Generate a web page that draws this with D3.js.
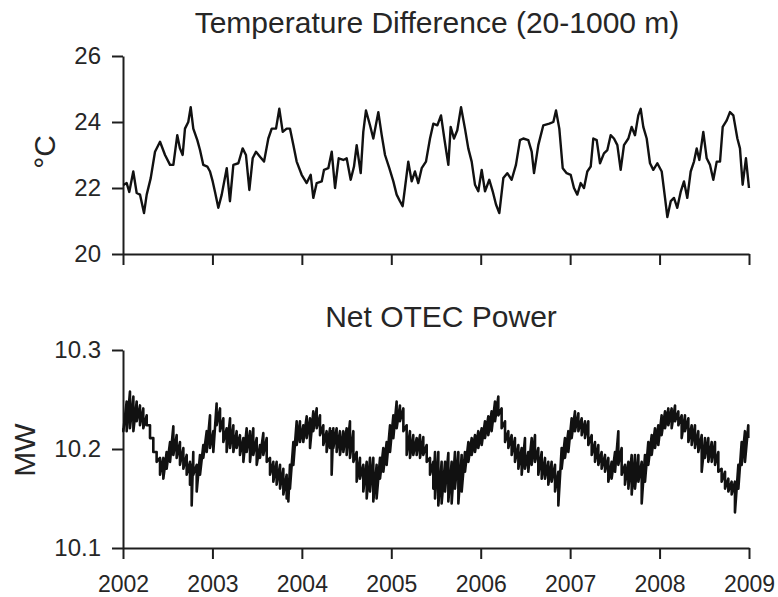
<!DOCTYPE html>
<html>
<head>
<meta charset="utf-8">
<script src="https://cdn.jsdelivr.net/npm/d3@7"></script>
<style>
  html, body { margin: 0; padding: 0; background: #fff; }
  svg { display: block; font-family: "Liberation Sans", Arial, sans-serif; }
</style>
</head>
<body>
<svg id="chart" width="778" height="597"></svg>
<script>
// ---------------- data ----------------
const years = [2002, 2003, 2004, 2005, 2006, 2007, 2008, 2009];
const tempTicks = [20, 22, 24, 26];
const powerTicks = [10.1, 10.2, 10.3];

// Temperature difference (20-1000 m), time in years since start of 2002
const tempT = [0.004,0.041,0.070,0.115,0.153,0.190,0.235,0.265,0.310,0.358,0.414,0.470,0.526,0.563,0.607,0.637,0.667,0.693,0.730,0.757,0.786,0.831,0.861,0.898,0.943,0.973,
1.003,1.029,1.066,1.104,1.160,1.196,1.234,1.290,1.338,1.375,1.413,1.450,1.487,1.532,1.577,1.625,1.663,1.711,1.748,1.786,1.830,1.867,1.905,1.942,1.998,
2.054,2.099,2.128,2.166,2.222,2.248,2.296,2.334,2.371,2.412,2.464,2.501,2.546,2.583,2.613,2.658,2.687,2.717,2.762,2.799,2.855,2.893,2.930,2.978,
3.023,3.060,3.097,3.127,3.153,3.190,3.228,3.265,3.302,3.340,3.388,3.433,3.470,3.515,3.556,3.593,3.638,3.664,3.701,3.738,3.780,3.824,3.861,3.899,3.936,3.973,
4.011,4.048,4.096,4.134,4.171,4.208,4.253,4.297,4.346,4.394,4.439,4.476,4.532,4.570,4.596,4.644,4.700,4.767,4.812,4.842,4.879,4.917,4.961,
5.006,5.043,5.080,5.118,5.155,5.192,5.230,5.259,5.297,5.334,5.378,5.416,5.453,5.490,5.528,5.565,5.602,5.651,5.688,5.725,5.762,5.789,5.818,5.856,5.893,5.930,5.975,
6.024,6.061,6.087,6.125,6.161,6.198,6.236,6.273,6.310,6.348,6.385,6.415,6.445,6.489,6.527,6.564,6.601,6.639,6.676,6.706,6.751,6.787,6.825,6.870,6.899,6.929,6.966,7.000];
const tempV = [22.09,22.15,21.88,22.50,21.85,21.80,21.24,21.80,22.30,23.10,23.40,23.00,22.70,22.70,23.60,23.20,23.00,23.80,24.00,24.45,23.80,23.45,23.15,22.70,22.65,22.50,
22.20,21.88,21.40,21.80,22.60,21.60,22.70,22.75,23.20,23.00,21.94,22.90,23.10,22.95,22.80,23.50,23.80,23.80,24.40,23.70,23.80,23.80,23.30,22.80,22.40,
22.15,22.40,21.70,22.15,22.20,22.55,22.60,23.10,22.00,22.90,22.85,22.90,22.25,22.65,23.30,22.45,23.70,24.35,23.90,23.50,24.30,23.60,23.00,22.60,
22.20,21.80,21.60,21.45,22.00,22.80,22.20,22.50,22.15,22.60,22.80,23.50,23.95,23.90,24.20,23.50,22.70,23.85,23.50,23.75,24.45,23.80,23.20,22.80,22.10,21.90,
22.55,21.90,22.25,21.90,21.50,21.24,22.30,22.45,22.25,22.70,23.45,23.50,23.45,23.10,22.45,23.30,23.90,23.95,24.00,24.35,23.80,22.60,22.45,
22.40,22.00,21.80,22.15,22.00,22.50,22.65,23.50,23.45,22.75,23.05,23.15,23.60,23.50,23.30,22.55,23.30,23.50,23.85,23.60,24.20,24.40,23.85,23.50,22.75,22.55,22.75,
22.50,21.70,21.12,21.60,21.70,21.40,21.88,22.20,21.70,22.50,22.80,23.20,22.85,23.70,22.90,22.70,22.25,22.80,22.80,23.85,24.05,24.30,24.20,23.50,23.20,22.10,22.90,22.00];

// Net OTEC power: upper and lower edges of the noisy band, time in years since start of 2002
const powerT = [0.004,0.041,0.078,0.116,0.153,0.190,0.227,0.265,0.302,0.339,0.376,0.414,0.451,0.488,0.526,0.563,0.600,0.637,0.675,0.712,0.749,0.768,0.786,0.824,0.861,0.898,0.936,0.973,
1.010,1.047,1.085,1.122,1.159,1.197,1.234,1.271,1.308,1.346,1.383,1.420,1.457,1.495,1.532,1.569,1.607,1.644,1.681,1.718,1.756,1.793,1.830,1.849,1.867,1.905,1.942,1.979,
2.016,2.054,2.091,2.128,2.166,2.203,2.240,2.277,2.315,2.333,2.352,2.389,2.426,2.464,2.501,2.538,2.576,2.613,2.650,2.687,2.725,2.762,2.799,2.836,2.874,2.911,2.948,2.986,
3.023,3.060,3.097,3.135,3.172,3.209,3.246,3.284,3.321,3.358,3.396,3.433,3.470,
3.489,3.526,3.563,3.601,3.638,3.675,3.712,3.750,3.787,3.824,3.862,3.899,3.936,3.973,4.011,4.048,4.085,4.122,4.160,4.197,4.234,4.272,4.309,4.346,4.383,4.421,4.458,4.495,4.532,4.570,4.607,4.644,4.682,4.719,4.756,4.793,4.831,4.868,4.905,4.942,4.980,
5.017,5.054,5.092,5.129,5.166,5.203,5.241,5.278,5.315,5.352,5.390,5.427,5.464,5.502,5.539,5.576,5.613,5.651,5.688,5.725,5.763,5.800,5.837,5.874,5.912,5.949,5.986,
6.023,6.061,6.098,6.135,6.173,6.210,6.247,6.284,6.322,6.359,6.396,6.433,6.471,6.508,6.545,6.583,6.620,6.657,6.694,6.732,6.769,6.806,6.843,6.881,6.918,6.955,6.992];
const powerHi = [10.221,10.248,10.258,10.253,10.248,10.244,10.241,10.234,10.224,10.211,10.197,10.191,10.191,10.197,10.207,10.223,10.214,10.207,10.201,10.194,10.187,10.184,10.197,10.184,10.194,10.204,10.218,10.234,
10.218,10.246,10.241,10.231,10.221,10.231,10.224,10.218,10.214,10.211,10.221,10.218,10.221,10.211,10.204,10.216,10.211,10.191,10.187,10.187,10.184,10.180,10.174,10.170,10.184,10.207,10.228,10.228,
10.224,10.233,10.231,10.238,10.241,10.234,10.224,10.218,10.221,10.218,10.221,10.221,10.218,10.218,10.221,10.228,10.218,10.197,10.191,10.184,10.187,10.191,10.191,10.184,10.191,10.201,10.207,10.224,
10.234,10.248,10.244,10.241,10.224,10.218,10.214,10.211,10.214,10.212,10.204,10.191,10.187,
10.197,10.197,10.187,10.187,10.196,10.187,10.197,10.197,10.194,10.197,10.207,10.211,10.214,10.218,10.221,10.228,10.233,10.238,10.248,10.253,10.241,10.228,10.218,10.214,10.211,10.204,10.201,10.211,10.197,10.211,10.214,10.201,10.197,10.191,10.187,10.187,10.184,10.177,10.201,10.211,10.218,
10.231,10.238,10.236,10.231,10.228,10.228,10.214,10.207,10.204,10.197,10.194,10.191,10.187,10.197,10.218,10.201,10.184,10.187,10.194,10.194,10.194,10.187,10.194,10.207,10.214,10.221,10.224,
10.234,10.238,10.241,10.241,10.244,10.238,10.234,10.234,10.231,10.224,10.224,10.218,10.214,10.211,10.211,10.207,10.207,10.197,10.180,10.177,10.170,10.167,10.167,10.184,10.207,10.218,10.224];
const powerLo = [10.218,10.218,10.221,10.218,10.228,10.224,10.221,10.224,10.211,10.197,10.187,10.174,10.170,10.180,10.187,10.194,10.191,10.184,10.180,10.174,10.164,10.143,10.174,10.157,10.174,10.191,10.197,10.201,
10.197,10.224,10.218,10.207,10.197,10.201,10.197,10.201,10.194,10.187,10.197,10.187,10.194,10.184,10.191,10.194,10.187,10.174,10.167,10.164,10.160,10.154,10.150,10.147,10.160,10.184,10.204,10.207,
10.207,10.211,10.201,10.218,10.221,10.214,10.204,10.197,10.201,10.174,10.201,10.197,10.194,10.197,10.194,10.191,10.187,10.167,10.170,10.157,10.150,10.157,10.147,10.150,10.170,10.177,10.184,10.197,
10.211,10.221,10.228,10.218,10.194,10.191,10.194,10.194,10.191,10.194,10.187,10.174,10.160,
10.150,10.143,10.145,10.157,10.147,10.145,10.160,10.145,10.157,10.177,10.187,10.194,10.197,10.201,10.204,10.211,10.214,10.218,10.228,10.234,10.221,10.207,10.201,10.194,10.187,10.180,10.174,10.180,10.177,10.184,10.187,10.174,10.170,10.170,10.164,10.167,10.157,10.143,10.180,10.191,10.197,
10.211,10.218,10.218,10.214,10.211,10.204,10.194,10.187,10.184,10.180,10.177,10.167,10.170,10.177,10.184,10.174,10.164,10.160,10.154,10.160,10.167,10.145,10.167,10.184,10.194,10.201,10.204,
10.214,10.221,10.224,10.221,10.228,10.224,10.211,10.218,10.207,10.204,10.201,10.197,10.177,10.191,10.187,10.187,10.184,10.177,10.167,10.160,10.157,10.154,10.136,10.160,10.184,10.187,10.211];

// ---------------- drawing ----------------
const svg = d3.select("#chart");
const ink = "#1e1e1e";

const x = d3.scaleLinear().domain([2002, 2009]).range([123, 749]);
const yT = d3.scaleLinear().domain([20, 26]).range([254, 56]);
const yP = d3.scaleLinear().domain([10.1, 10.3]).range([548, 350]);

function styleAxis(g) {
  g.select(".domain").attr("stroke", ink).attr("stroke-width", 2);
  g.selectAll(".tick line").attr("stroke", ink).attr("stroke-width", 2);
  g.selectAll(".tick text").attr("fill", "#262626").style("font-size", "24px")
    .style("font-family", "'Liberation Sans', Arial, sans-serif");
}

// ---- top panel ----
svg.append("g").attr("transform", "translate(0,254)")
  .call(d3.axisBottom(x).tickValues(years).tickFormat("").tickSize(11).tickSizeOuter(0))
  .call(styleAxis);
svg.append("g").attr("transform", "translate(123,0)")
  .call(d3.axisLeft(yT).tickValues(tempTicks).tickFormat(d3.format("d")).tickSize(11).tickPadding(11).tickSizeOuter(0))
  .call(styleAxis);

const tempData = tempT.map((t, i) => [2002 + t, tempV[i]]);
svg.append("path").datum(tempData)
  .attr("fill", "none").attr("stroke", "#111").attr("stroke-width", 2.4)
  .attr("stroke-linejoin", "round")
  .attr("d", d3.line().x(d => x(d[0])).y(d => yT(d[1])));

svg.append("text").attr("x", 437).attr("y", 33).attr("text-anchor", "middle")
  .attr("fill", "#262626").style("font-size", "30px")
  .text("Temperature Difference (20-1000 m)");
svg.append("text").attr("transform", "translate(55,152) rotate(-90)")
  .attr("text-anchor", "middle").attr("fill", "#262626").style("font-size", "30px")
  .text("°C");

// ---- bottom panel ----
const xAxisBottom = svg.append("g").attr("transform", "translate(0,548)")
  .call(d3.axisBottom(x).tickValues(years).tickFormat(d3.format("d")).tickSize(11).tickPadding(17).tickSizeOuter(0))
  .call(styleAxis);
xAxisBottom.selectAll(".tick text").style("font-size", "23px");
svg.append("g").attr("transform", "translate(123,0)")
  .call(d3.axisLeft(yP).tickValues(powerTicks).tickFormat(d3.format(".1f")).tickSize(11).tickPadding(11).tickSizeOuter(0))
  .call(styleAxis);

const powerData = [];
powerT.forEach((t, i) => {
  powerData.push([2002 + t, powerHi[i]]);
  powerData.push([2002 + t, powerLo[i]]);
});
svg.append("path").datum(powerData)
  .attr("fill", "none").attr("stroke", "#111").attr("stroke-width", 2.6)
  .attr("stroke-linejoin", "round")
  .attr("d", d3.line().x(d => x(d[0])).y(d => yP(d[1])));

svg.append("text").attr("x", 441).attr("y", 327).attr("text-anchor", "middle")
  .attr("fill", "#262626").style("font-size", "30px")
  .text("Net OTEC Power");
svg.append("text").attr("transform", "translate(35,450) rotate(-90)")
  .attr("text-anchor", "middle").attr("fill", "#262626").style("font-size", "30px")
  .text("MW");
</script>
</body>
</html>
